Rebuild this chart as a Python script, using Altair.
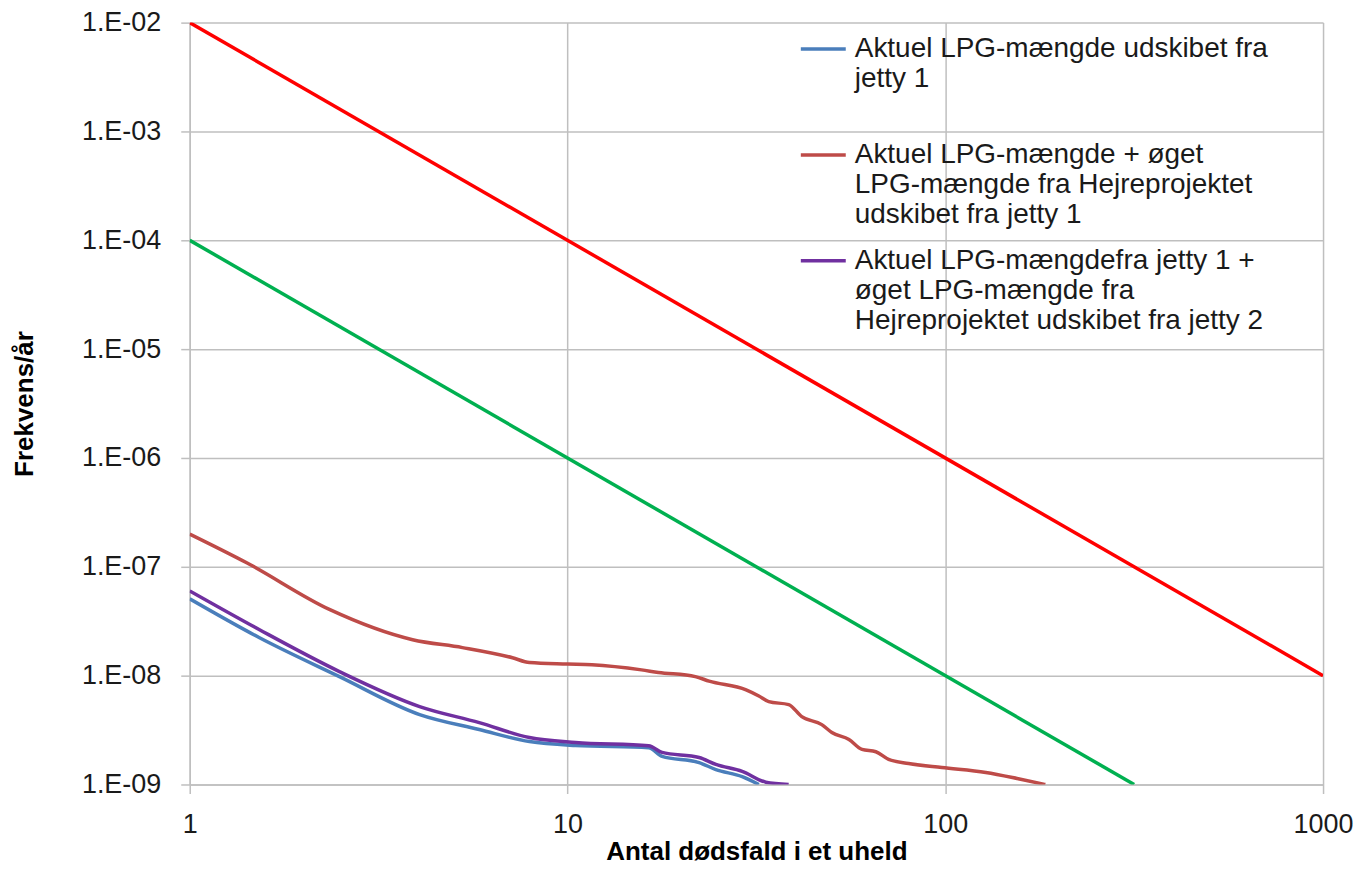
import json
import altair as alt
import pandas as pd

# ---------------- data ----------------
S1 = "Aktuel LPG-mængde udskibet fra jetty 1"
S2 = "Aktuel LPG-mængde + øget LPG-mængde fra Hejreprojektet udskibet fra jetty 1"
S3 = "Aktuel LPG-mængdefra jetty 1 + øget LPG-mængde fra Hejreprojektet udskibet fra jetty 2"
series_names = [S1, S2, S3]
series_colors = ["#4a7ebb", "#be4b48", "#7030a0"]
legend_lines = {
    S1: ["Aktuel LPG-mængde udskibet fra", "jetty 1", ""],
    S2: ["Aktuel LPG-mængde + øget", "LPG-mængde fra Hejreprojektet", "udskibet fra jetty 1"],
    S3: ["Aktuel LPG-mængdefra jetty 1 +", "øget LPG-mængde fra", "Hejreprojektet udskibet fra jetty 2"],
}

blue_x = [1, 1.53, 2.49, 4.06, 5.84, 7.93, 10.5, 16.4, 17.8, 22.3, 24.7, 29, 32.1]
blue_y = [5.08e-8, 2.23e-8, 9.8e-9, 4.39e-9, 3.2e-9, 2.48e-9, 2.28e-9, 2.18e-9,
          1.81e-9, 1.59e-9, 1.37e-9, 1.18e-9, 1.0e-9]

brown_x = [1, 1.415, 2.35, 3.89, 5.27, 7.15, 7.93, 10.0, 11.6, 15.7, 17.4, 21.8, 23.7,
           29.7, 32.1, 34.1, 38.5, 41.7, 47.1, 50.1, 55.6, 60.2, 65.5, 70.8, 80,
           97.9, 128, 156, 184]
brown_y = [2.0e-7, 1.09e-7, 4.04e-8, 2.14e-8, 1.81e-8, 1.46e-8, 1.32e-8, 1.28e-8,
           1.26e-8, 1.13e-8, 1.07e-8, 9.8e-9, 8.9e-9, 7.4e-9, 6.5e-9, 5.77e-9,
           5.42e-9, 4.2e-9, 3.55e-9, 3.0e-9, 2.59e-9, 2.1e-9, 2.0e-9, 1.7e-9,
           1.56e-9, 1.43e-9, 1.29e-9, 1.13e-9, 1.0e-9]

purple_x = [1, 1.53, 2.49, 4.06, 5.84, 7.93, 10.5, 16.4, 17.8, 22.3, 24.7, 29, 33.5, 38.5]
purple_y = [6.0e-8, 2.64e-8, 1.09e-8, 5.2e-9, 3.7e-9, 2.7e-9, 2.43e-9, 2.27e-9,
            1.97e-9, 1.77e-9, 1.53e-9, 1.32e-9, 1.05e-9, 1.0e-9]

red_x = [1, 1000]
red_y = [1e-2, 1e-8]
green_x = [1, 316.2]
green_y = [1e-4, 1e-9]

x_ticks = [1, 10, 100, 1000]
y_ticks = [1e-9, 1e-8, 1e-7, 1e-6, 1e-5, 1e-4, 1e-3, 1e-2]

X_TITLE = "Antal dødsfald  i et uheld"
Y_TITLE = "Frekvens/år"

# ---------------- tables ----------------
rows = []
for name, xs, ys in [(S1, blue_x, blue_y), (S2, brown_x, brown_y), (S3, purple_x, purple_y)]:
    for i, (a, b) in enumerate(zip(xs, ys)):
        rows.append({"serie": name, "x": a, "y": b, "i": i})
curves = pd.DataFrame(rows)
red = pd.DataFrame({"x": red_x, "y": red_y})
green = pd.DataFrame({"x": green_x, "y": green_y})

FONT = "Liberation Sans"

label_expr = ""
for name in series_names[:-1]:
    label_expr += f"datum.label == {json.dumps(name)} ? {json.dumps(legend_lines[name])} : "
label_expr += json.dumps(legend_lines[series_names[-1]])

x_scale = alt.Scale(type="log", domain=[1, 1000], nice=False)
y_scale = alt.Scale(type="log", domain=[1e-9, 1e-2], nice=False)

x_axis = alt.Axis(values=x_ticks, format="d", title=X_TITLE, labelPadding=18,
                  titlePadding=1, labelFlush=False)
y_axis = alt.Axis(values=y_ticks, title=Y_TITLE,
                  labelExpr="'1.E-0' + (-round(log(datum.value) / LN10))",
                  labelPadding=20, titlePadding=44)

base_x = alt.X("x:Q", scale=x_scale, axis=x_axis)
base_y = alt.Y("y:Q", scale=y_scale, axis=y_axis)

curve_layer = alt.Chart(curves).mark_line(strokeWidth=3.5, clip=True, interpolate="monotone").encode(
    x=base_x,
    y=base_y,
    order="i:Q",
    color=alt.Color(
        "serie:N",
        scale=alt.Scale(domain=series_names, range=series_colors),
        legend=alt.Legend(
            title=None,
            orient="none",
            legendX=610,
            legendY=2,
            padding=0,
            symbolType="stroke",
            symbolSize=2025,
            symbolStrokeWidth=3.5,
            labelExpr=label_expr,
            labelFont=FONT,
            labelFontSize=28,
            labelColor="#1a1a1a",
            labelLimit=600,
            labelOffset=7,
            labelBaseline="middle",
            rowPadding=7,
        ),
    ),
)

red_layer = alt.Chart(red).mark_line(color="#ff0000", strokeWidth=3.5, clip=True).encode(
    x=alt.X("x:Q", scale=x_scale), y=alt.Y("y:Q", scale=y_scale)
)
green_layer = alt.Chart(green).mark_line(color="#00b050", strokeWidth=3.5, clip=True).encode(
    x=alt.X("x:Q", scale=x_scale), y=alt.Y("y:Q", scale=y_scale)
)

chart = (
    alt.layer(curve_layer, red_layer, green_layer)
    .properties(
        width=1135,
        height=763,
        autosize=alt.AutoSizeParams(type="none"),
        padding={"left": 182, "top": 14, "right": 30, "bottom": 86},
        background="white",
    )
    .configure_view(strokeWidth=0)
    .configure_axis(
        grid=True,
        gridColor="#bfbfbf",
        gridWidth=1.5,
        domainColor="#bfbfbf",
        domainWidth=1.5,
        tickColor="#bfbfbf",
        tickWidth=1.5,
        tickSize=9,
        labelFont=FONT,
        labelFontSize=27,
        labelColor="#1a1a1a",
        titleFont=FONT,
        titleFontSize=26,
        titleFontWeight="bold",
        titleColor="#000000",
    )
)

chart.save("out.html", embed_options={"renderer": "svg", "actions": False})
